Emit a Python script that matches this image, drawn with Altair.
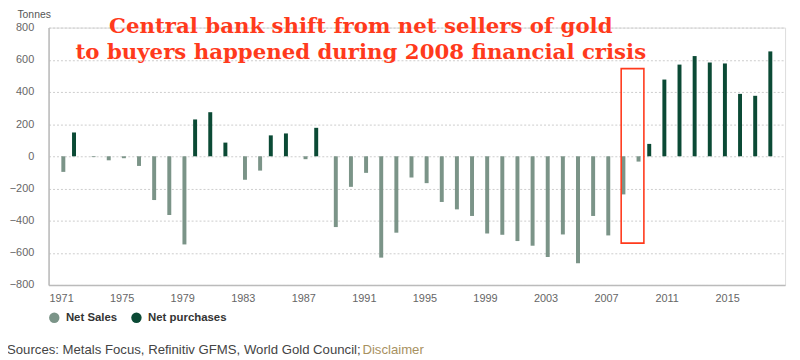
import altair as alt
import pandas as pd

years = list(range(1971, 2019))
values = [
    -97, 148, -5, -25, -12, -60, -272, -365, -548, 229,
    274, 85, -146, -89, 130, 142, -18, 177, -440, -190,
    -103, -630, -475, -132, -167, -284, -330, -371, -480, -488,
    -527, -556, -626, -486, -665, -371, -492, -237, -33, 77,
    477, 570, 623, 583, 577, 388, 376, 652,
]
series = ["Net Sales" if v < 0 else "Net purchases" for v in values]

title_lines = ["Central bank shift from net sellers of gold",
               "to buyers happened during 2008 financial crisis"]
title_x = [1990.8, 1990.8]
title_y = [806, 640]

box_x, box_x2 = [2008.0], [2009.5]
box_y, box_y2 = [545], [-540]

y_ticks = [-800, -600, -400, -200, 0, 200, 400, 600, 800]
x_ticks = [1971, 1975, 1979, 1983, 1987, 1991, 1995, 1999, 2003, 2007, 2011, 2015]

GRAY = "#7b9488"
GREEN = "#0b4a35"
RED = "#ff3a1c"
FONT = "Liberation Sans"

df = pd.DataFrame({"year": years, "value": values, "series": series})

xscale = alt.Scale(domain=[1970.5, 2018.5], nice=False, zero=False)
yscale = alt.Scale(domain=[-800, 800], nice=False)

x_axis = alt.Axis(values=x_ticks, format="d", grid=False, ticks=False, domain=True,
                  domainColor="#bbbbbb", domainWidth=1.5, labelColor="#666666",
                  labelFont=FONT, labelFontSize=11, labelPadding=8, title=None)
y_axis = alt.Axis(values=y_ticks, title="Tonnes", titleAngle=0, titleX=-32, titleY=-18,
                  titleAlign="left", titleBaseline="top", titleFont=FONT, titleFontSize=10.5,
                  titleFontWeight="normal",
                  titleColor="#555555", labelColor="#666666", labelFont=FONT, labelFontSize=11,
                  labelPadding=15, labelOverlap=False, ticks=False, grid=True,
                  gridColor="#cccccc", gridDash=[2, 2], gridWidth=1, domain=True,
                  domainColor="#bbbbbb", domainWidth=1.5)

x_enc = alt.X("year:Q", scale=xscale, axis=x_axis, title=None)
y_enc = alt.Y("value:Q", scale=yscale, axis=y_axis, title="Tonnes")

color = alt.Color(
    "series:N",
    scale=alt.Scale(domain=["Net Sales", "Net purchases"], range=[GRAY, GREEN]),
    legend=alt.Legend(
        title=None, orient="none", legendX=0, legendY=287, direction="horizontal",
        symbolType="circle", symbolSize=110, symbolStrokeWidth=0,
        labelFont=FONT, labelFontSize=11.5, labelFontWeight="bold", labelColor="#333333",
        columnPadding=13, symbolOffset=0, labelOffset=6,
    ),
)

sales = alt.Chart(df).transform_filter(alt.datum.series == "Net Sales").mark_bar(
    width=4, xOffset=2.25
).encode(x=x_enc, y=y_enc, y2=alt.datum(0), color=color)

purch = alt.Chart(df).transform_filter(alt.datum.series == "Net purchases").mark_bar(
    width=4, xOffset=-2.25
).encode(x=x_enc, y=y_enc, y2=alt.datum(0), color=color)

box_df = pd.DataFrame({"year": box_x, "year2": box_x2, "value": box_y, "value2": box_y2})
box = alt.Chart(box_df).mark_rect(fill=None, stroke=RED, strokeWidth=1.6).encode(
    x=x_enc, x2="year2:Q", y=y_enc, y2="value2:Q",
)

title_df = pd.DataFrame({"text": title_lines, "year": title_x, "value": title_y})
title = alt.Chart(title_df).mark_text(
    font="DejaVu Serif", fontSize=21.5, fontWeight="bold", color=RED, align="center",
    baseline="middle",
).encode(x=x_enc, y=y_enc, text="text:N")

foot_df = pd.DataFrame({"a": ["Sources: Metals Focus, Refinitiv GFMS, World Gold Council;"],
                        "b": ["Disclaimer"]})
foot1 = alt.Chart(foot_df).mark_text(
    font=FONT, fontSize=13.3, color="#444444", align="left", baseline="middle"
).encode(x=alt.value(-42), y=alt.value(326), text="a:N")
foot2 = alt.Chart(foot_df).mark_text(
    font=FONT, fontSize=13.3, color="#a8915f", align="left", baseline="middle"
).encode(x=alt.value(317), y=alt.value(326), text="b:N")

chart = alt.layer(sales, purch, box, title, foot1, foot2).properties(
    width=744, height=260,
    autosize=alt.AutoSizeParams(type="none"),
    padding={"left": 41, "top": 18, "right": 7, "bottom": 74},
).configure_view(stroke=None).configure(background="white")

chart.save("out.html", embed_options={"renderer": "svg", "actions": False})
